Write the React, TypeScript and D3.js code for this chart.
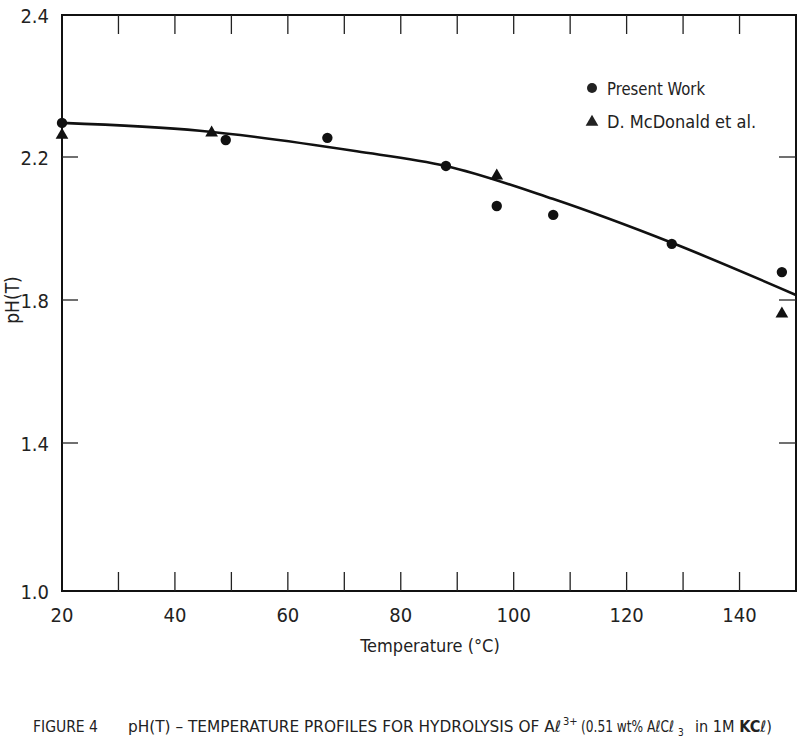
import * as d3 from "d3";

// readings (pH in the axis' own label units)
const presentT = [20, 49, 67, 88, 97, 107, 128, 147.5];
const presentPH = [2.248, 2.224, 2.227, 2.175, 2.063, 2.038, 1.957, 1.878];
const mcdT = [20, 46.5, 97, 147.5];
const mcdPH = [2.231, 2.234, 2.147, 1.761];
// fitted curve
const curveT = [20, 44.4, 72.2, 88, 106.9, 128, 150];
const curvePH = [2.248, 2.237, 2.208, 2.175, 2.083, 1.96, 1.814];

const xTickLabels = [20, 40, 60, 80, 100, 120, 140];
const xMinorTicks = [30, 40, 50, 60, 70, 80, 90, 100, 110, 120, 130, 140];
const yTickLabels = ["2.4", "2.2", "1.8", "1.4", "1.0"];
const yTicks = [2.2, 1.8, 1.4];

const FONT = "'Liberation Sans Narrow', 'DejaVu Sans Condensed', 'Arial Narrow', sans-serif";

export default function App() {
  const W = 800,
    H = 740;
  const x = d3.scaleLinear().domain([20, 150]).range([62, 796]);
  // axis as printed: the labels are not evenly spaced in value
  const y = d3
    .scaleLinear()
    .domain([1.0, 1.4, 1.8, 2.2, 2.4])
    .range([591, 443, 300, 157, 15]);

  const line = d3
    .line<number>()
    .x((d) => x(curveT[d]))
    .y((d) => y(curvePH[d]))
    .curve(d3.curveMonotoneX);

  const tri = d3.symbol(d3.symbolTriangle, 70);

  const x0 = x(20),
    x1 = x(150),
    y0 = y(1.0),
    y1 = y(2.4);

  return (
    <svg
      width={W}
      height={H}
      style={{ position: "absolute", left: 0, top: 0, background: "#fff" }}
      fontFamily={FONT}
    >
      <rect x={x0} y={y1} width={x1 - x0} height={y0 - y1} fill="none" stroke="#111" strokeWidth={2} />

      {/* ticks, pointing inward */}
      <g stroke="#222" strokeWidth={1.3}>
        {xMinorTicks.map((t) => (
          <g key={t}>
            <line x1={x(t)} x2={x(t)} y1={y0} y2={y0 - 19} />
            <line x1={x(t)} x2={x(t)} y1={y1} y2={y1 + 19} />
          </g>
        ))}
        {yTicks.map((t) => (
          <g key={t}>
            <line x1={x0} x2={x0 + 16} y1={y(t)} y2={y(t)} />
            <line x1={x1} x2={x1 - 17} y1={y(t)} y2={y(t)} />
          </g>
        ))}
      </g>

      {/* tick labels */}
      <g fontSize={20} fill="#222">
        {xTickLabels.map((t) => (
          <text key={t} x={x(t)} y={y0 + 31} textAnchor="middle">
            {t}
          </text>
        ))}
        {yTickLabels.map((t) => (
          <text key={t} x={49} y={y(+t) + 8} textAnchor="end">
            {t}
          </text>
        ))}
      </g>

      <text x={430} y={652} fontSize={18} textAnchor="middle" fill="#222">
        Temperature (°C)
      </text>
      <text transform="translate(19,300) rotate(-90)" fontSize={19} textAnchor="middle" fill="#222">
        pH(T)
      </text>

      {/* fitted curve */}
      <path d={line(d3.range(curveT.length)) ?? ""} fill="none" stroke="#111" strokeWidth={2.6} />

      {/* points */}
      <g fill="#111">
        {presentT.map((t, i) => (
          <circle key={"p" + i} cx={x(t)} cy={y(presentPH[i])} r={5.2} />
        ))}
        {mcdT.map((t, i) => (
          <path key={"m" + i} d={tri() ?? ""} transform={`translate(${x(t)},${y(mcdPH[i])})`} />
        ))}
      </g>

      {/* legend */}
      <g fill="#222" fontSize={18}>
        <circle cx={592} cy={88} r={5} />
        <text x={607} y={95} textLength={98} lengthAdjust="spacingAndGlyphs">Present Work</text>
        <path d={tri() ?? ""} transform="translate(592,122)" />
        <text x={607} y={128}>D. McDonald et al.</text>
      </g>

      {/* caption */}
      <g fontSize={16} fill="#222">
        <text x={33} y={732} textLength={65} lengthAdjust="spacingAndGlyphs">FIGURE 4</text>
        <text x={128} y={732} textLength={433} lengthAdjust="spacingAndGlyphs">
          pH(T) – TEMPERATURE PROFILES FOR HYDROLYSIS OF Aℓ
        </text>
        <text x={563} y={725} fontSize={11}>3+</text>
        <text x={581} y={732} textLength={93} lengthAdjust="spacingAndGlyphs">(0.51 wt% AℓCℓ</text>
        <text x={678} y={736} fontSize={10}>3</text>
        <text x={695} y={732} textLength={77} lengthAdjust="spacingAndGlyphs">
          in 1M <tspan fontWeight="bold">KC</tspan>ℓ)
        </text>
      </g>
    </svg>
  );
}
